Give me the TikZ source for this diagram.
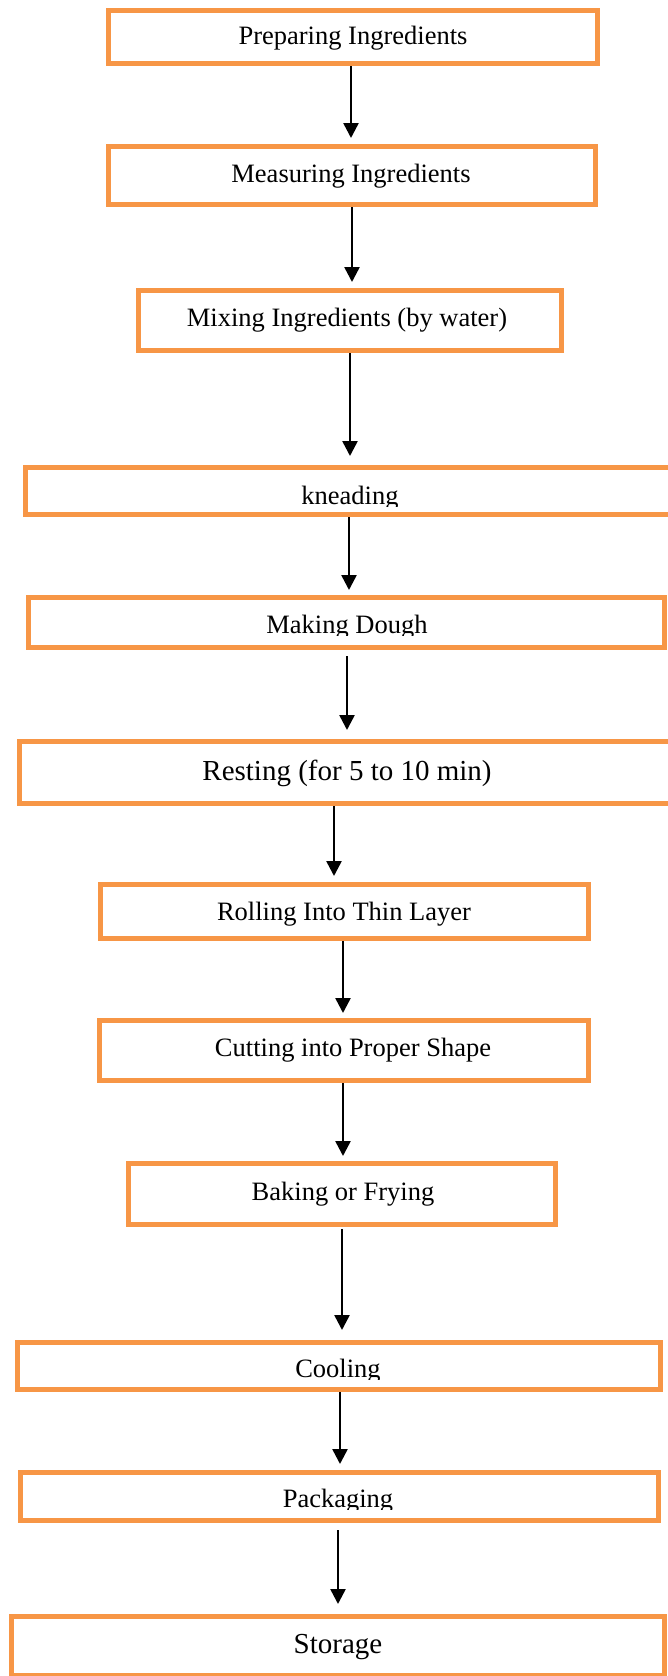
\documentclass[tikz,border=0pt]{standalone}
\usepackage{fontspec}
\setmainfont{Liberation Serif}
\usetikzlibrary{arrows.meta}
\definecolor{boxorange}{HTML}{F79646}
\begin{document}
\begin{tikzpicture}[x=1pt,y=-1pt,
  stagebox/.style={draw=boxorange, line width=5pt, fill=white, inner sep=0pt, outer sep=0pt},
  steptext/.style={anchor=base, inner sep=0pt, font=\fontsize{26.5}{30}\selectfont},
  bigtext/.style={steptext, font=\fontsize{29}{33}\selectfont},
  arr/.style={line width=2.5pt, -{Triangle[length=15pt,width=15pt]}}]
\useasboundingbox (0,0) rectangle (667,1676);
% boxes
\node[stagebox, minimum width=489pt, minimum height=53pt] (b1) at (353,37) {};
\node[stagebox, minimum width=487pt, minimum height=58pt] (b2) at (352,175.5) {};
\node[stagebox, minimum width=423pt, minimum height=60pt] (b3) at (350,320.5) {};
\node[stagebox, minimum width=652pt, minimum height=47pt] (b4) at (351.5,491) {};
\node[stagebox, minimum width=636pt, minimum height=50pt] (b5) at (346.5,622.5) {};
\node[stagebox, minimum width=663pt, minimum height=62pt] (b6) at (351,772.5) {};
\node[stagebox, minimum width=488pt, minimum height=54pt] (b7) at (344.5,911.5) {};
\node[stagebox, minimum width=489pt, minimum height=60pt] (b8) at (344,1050.5) {};
\node[stagebox, minimum width=427pt, minimum height=61pt] (b9) at (342,1194) {};
\node[stagebox, minimum width=643pt, minimum height=47pt] (b10) at (339,1366) {};
\node[stagebox, minimum width=638pt, minimum height=48pt] (b11) at (339.5,1496.5) {};
\node[stagebox, minimum width=653pt, minimum height=59pt] (b12) at (337.75,1646) {};
% texts
\node[steptext] (t1) at (353,44) {Preparing Ingredients};
\node[steptext] (t2) at (351,182) {Measuring Ingredients};
\node[steptext] (t3) at (347,326) {Mixing Ingredients (by water)};
\begin{scope}
\clip (0,0) rectangle (667,506);
\node[steptext] (t4) at (350,504) {kneading};
\end{scope}
\begin{scope}
\clip (0,0) rectangle (667,635);
\node[steptext] (t5) at (347,633) {Making Dough};
\end{scope}
\node[bigtext] (t6) at (347,780) {Resting (for 5 to 10 min)};
\node[steptext] (t7) at (344,920) {Rolling Into Thin Layer};
\node[steptext] (t8) at (353,1056) {Cutting into Proper Shape};
\node[steptext] (t9) at (343,1200) {Baking or Frying};
\begin{scope}
\clip (0,0) rectangle (667,1379);
\node[steptext] (t10) at (338,1377) {Cooling};
\end{scope}
\begin{scope}
\clip (0,0) rectangle (667,1509);
\node[steptext] (t11) at (338,1507) {Packaging};
\end{scope}
\node[bigtext] (t12) at (338,1653) {Storage};
% arrows
\draw[arr, shorten <=2.5pt, shorten >=8.5pt] (b1.south -| 351,0) -- (b2.north -| 351,0);
\draw[arr, shorten <=2.5pt, shorten >=8.5pt] (b2.south -| 352,0) -- (b3.north -| 352,0);
\draw[arr, shorten <=2.5pt, shorten >=11.5pt] (b3.south -| 350,0) -- (b4.north -| 350,0);
\draw[arr, shorten <=2.5pt, shorten >=7.5pt] (b4.south -| 349,0) -- (b5.north -| 349,0);
\draw[arr, shorten <=8.5pt, shorten >=11.5pt] (b5.south -| 347,0) -- (b6.north -| 347,0);
\draw[arr, shorten <=2.5pt, shorten >=8.5pt] (b6.south -| 334,0) -- (b7.north -| 334,0);
\draw[arr, shorten <=2.5pt, shorten >=7.5pt] (b7.south -| 343,0) -- (b8.north -| 343,0);
\draw[arr, shorten <=2.5pt, shorten >=7.5pt] (b8.south -| 343,0) -- (b9.north -| 343,0);
\draw[arr, shorten <=4.5pt, shorten >=12.5pt] (b9.south -| 342,0) -- (b10.north -| 342,0);
\draw[arr, shorten <=2.5pt, shorten >=8.5pt] (b10.south -| 340,0) -- (b11.north -| 340,0);
\draw[arr, shorten <=9.5pt, shorten >=12.5pt] (b11.south -| 338,0) -- (b12.north -| 338,0);
\end{tikzpicture}
\end{document}
